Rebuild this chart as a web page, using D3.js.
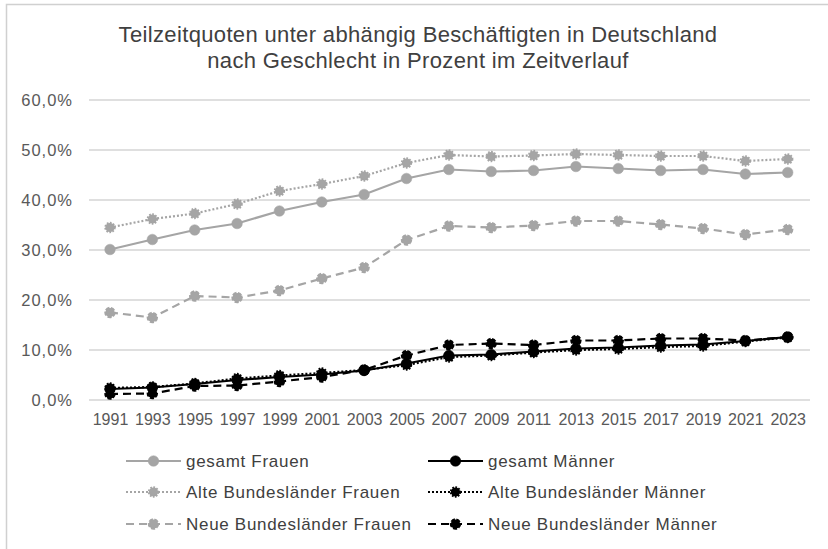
<!DOCTYPE html>
<html>
<head>
<meta charset="utf-8">
<script src="https://cdn.jsdelivr.net/npm/d3@7"></script>
<style>
  body { margin: 0; background: #fff; }
  svg { font-family: "Liberation Sans", Arial, sans-serif; }
  .grid line { stroke: #d4d4d4; stroke-width: 1.5; }
  .tick-label { fill: #595959; }
</style>
</head>
<body>
<div id="chart"></div>
<script>
const years = ['1991','1993','1995','1997','1999','2001','2003','2005','2007','2009','2011','2013','2015','2017','2019','2021','2023'];
const yTicks = [0, 10, 20, 30, 40, 50, 60];

// Werte in Prozent
const gesamtFrauen = [30.1, 32.1, 34.0, 35.3, 37.8, 39.6, 41.1, 44.3, 46.1, 45.7, 45.9, 46.7, 46.3, 45.9, 46.1, 45.2, 45.5];
const gesamtMaenner = [2.2, 2.5, 3.2, 4.0, 4.6, 5.1, 5.9, 7.3, 8.9, 9.1, 9.7, 10.3, 10.5, 10.9, 11.1, 11.8, 12.6];
const alteFrauen = [34.5, 36.2, 37.3, 39.2, 41.8, 43.2, 44.8, 47.4, 49.0, 48.7, 48.9, 49.2, 49.0, 48.8, 48.8, 47.8, 48.2];
const alteMaenner = [2.4, 2.6, 3.3, 4.3, 4.9, 5.4, 6.0, 7.0, 8.6, 8.9, 9.5, 10.0, 10.2, 10.6, 10.8, 11.7, 12.5];
const neueFrauen = [17.5, 16.5, 20.8, 20.5, 21.9, 24.3, 26.5, 32.0, 34.8, 34.5, 34.9, 35.8, 35.8, 35.1, 34.3, 33.1, 34.1];
const neueMaenner = [1.2, 1.3, 2.8, 2.9, 3.7, 4.6, 6.0, 8.9, 11.0, 11.3, 11.0, 11.9, 11.9, 12.3, 12.3, 11.9, 12.6];

const gray = '#a5a5a5', black = '#000000';

const series = [
  {name: 'gesamt Frauen', values: gesamtFrauen, color: gray, style: 'solid'},
  {name: 'gesamt Männer', values: gesamtMaenner, color: black, style: 'solid'},
  {name: 'Alte Bundesländer Frauen', values: alteFrauen, color: gray, style: 'dot'},
  {name: 'Alte Bundesländer Männer', values: alteMaenner, color: black, style: 'dot'},
  {name: 'Neue Bundesländer Frauen', values: neueFrauen, color: gray, style: 'dash'},
  {name: 'Neue Bundesländer Männer', values: neueMaenner, color: black, style: 'dash'}
];

const width = 828, height = 549;
const lineDash = {solid: null, dot: '2,2', dash: '8,5'};
const markerDash = {solid: null, dot: '1.6,1.4', dash: '4,1.5'};

const svg = d3.select('#chart').append('svg')
  .attr('width', width)
  .attr('height', height);

// Rahmen
svg.append('rect')
  .attr('x', 6.5).attr('y', 4.5)
  .attr('width', width + 10).attr('height', height + 10)
  .attr('fill', 'none')
  .attr('stroke', '#d0d0d0')
  .attr('stroke-width', 1.5);

// Titel
const title = svg.append('text')
  .attr('text-anchor', 'middle')
  .attr('fill', '#404040')
  .style('font-size', '22px')
  .style('letter-spacing', '0.35px');
title.append('tspan').attr('x', 418).attr('y', 42).text('Teilzeitquoten unter abhängig Beschäftigten in Deutschland');
title.append('tspan').attr('x', 418).attr('y', 68).text('nach Geschlecht in Prozent im Zeitverlauf');

const x = d3.scalePoint().domain(years).range([110, 787.7]);
const y = d3.scaleLinear().domain([0, 60]).range([400, 100]);

// Gitterlinien
svg.append('g')
  .attr('class', 'grid')
  .selectAll('line')
  .data(yTicks)
  .enter().append('line')
  .attr('x1', 89)
  .attr('x2', 810)
  .attr('y1', d => y(d))
  .attr('y2', d => y(d));

// Y-Achse
const yAxis = d3.axisLeft(y)
  .tickValues(yTicks)
  .tickSize(0)
  .tickPadding(0)
  .tickFormat(d => d3.format('.1f')(d).replace('.', ',') + '%');

svg.append('g')
  .attr('transform', 'translate(73, 0)')
  .call(yAxis)
  .call(g => g.select('.domain').remove())
  .call(g => g.selectAll('text')
    .attr('class', 'tick-label')
    .attr('dy', '0.35em')
    .style('font-size', '16.5px')
    .style('letter-spacing', '1px')
    .style('font-family', null));

// X-Achse
const xAxis = d3.axisBottom(x)
  .tickSize(0)
  .tickPadding(0);

svg.append('g')
  .attr('transform', 'translate(0, 413)')
  .call(xAxis)
  .call(g => g.select('.domain').remove())
  .call(g => g.selectAll('text')
    .attr('class', 'tick-label')
    .attr('dy', '0.75em')
    .style('font-size', '16px')
    .style('font-family', null));

const line = d3.line()
  .x((d, i) => x(years[i]))
  .y(d => y(d));

function drawMarker(sel, s, cx, cy) {
  sel.append('circle')
    .attr('cx', cx)
    .attr('cy', cy)
    .attr('r', s.style === 'solid' ? 5.3 : 4.6)
    .attr('fill', s.color)
    .attr('stroke', s.color)
    .attr('stroke-width', s.style === 'solid' ? 0.5 : 2.2)
    .attr('stroke-dasharray', markerDash[s.style]);
}

series.forEach(s => {
  const g = svg.append('g');
  g.append('path')
    .datum(s.values)
    .attr('d', line)
    .attr('fill', 'none')
    .attr('stroke', s.color)
    .attr('stroke-width', 2.2)
    .attr('stroke-dasharray', lineDash[s.style]);
  s.values.forEach((v, i) => drawMarker(g, s, x(years[i]), y(v)));
});

// Legende
const legendCols = [126, 428];
const legendRows = [461, 492, 524];

series.forEach((s, i) => {
  const lx = legendCols[i % 2], ly = legendRows[Math.floor(i / 2)];
  const g = svg.append('g');
  g.append('line')
    .attr('x1', lx).attr('x2', lx + 55)
    .attr('y1', ly).attr('y2', ly)
    .attr('stroke', s.color)
    .attr('stroke-width', 2.2)
    .attr('stroke-dasharray', lineDash[s.style]);
  drawMarker(g, s, lx + 27.5, ly);
  g.append('text')
    .attr('x', lx + 60)
    .attr('y', ly)
    .attr('dy', '0.35em')
    .attr('fill', '#404040')
    .style('font-size', '17px')
    .style('letter-spacing', '0.7px')
    .text(s.name);
});
</script>
</body>
</html>
